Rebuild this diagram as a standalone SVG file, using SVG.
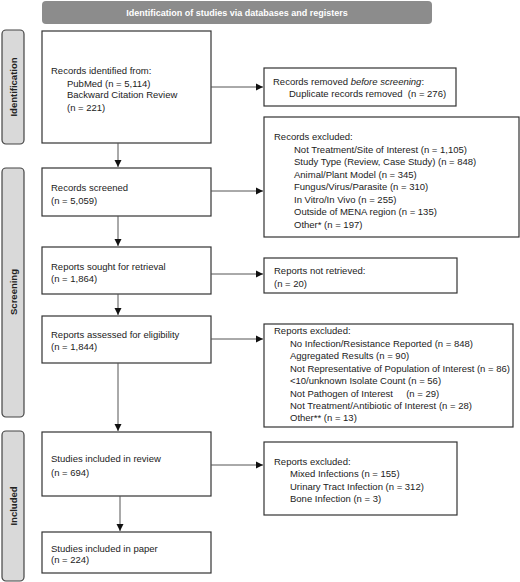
<svg xmlns="http://www.w3.org/2000/svg" width="520" height="582" viewBox="0 0 520 582">
<defs>
<marker id="ah" markerWidth="8" markerHeight="8" refX="7" refY="4" orient="auto" markerUnits="userSpaceOnUse">
<path d="M0,0.5 L7,4 L0,7.5 Z" fill="#111"/>
</marker>
<style>
.box{fill:#fff;stroke:#333;stroke-width:1.2}
.side{fill:#d9d9d9;stroke:#444;stroke-width:1.2}
.t{font-family:"Liberation Sans",Arial,sans-serif;font-size:9.5px;fill:#222}
.st{font-family:"Liberation Sans",Arial,sans-serif;font-size:9.5px;font-weight:bold;fill:#222}
.conn line{stroke:#555;stroke-width:1;marker-end:url(#ah)}
</style>
</defs>
<rect width="520" height="582" fill="#fff"/>
<g id="banner">
<rect x="42" y="1" width="390" height="23" rx="4" fill="#8c8c8c"/>
<text x="237" y="15.5" text-anchor="middle" class="st" style="fill:#fff;font-size:9px">Identification of studies via databases and registers</text>
</g>
<g id="side-identification">
<rect x="2" y="30" width="22" height="114" rx="4" class="side"/>
<text transform="translate(16.5,87) rotate(-90)" text-anchor="middle" class="st">Identification</text>
</g>
<g id="side-screening">
<rect x="2" y="168" width="22" height="249" rx="4" class="side"/>
<text transform="translate(16.5,292) rotate(-90)" text-anchor="middle" class="st">Screening</text>
</g>
<g id="side-included">
<rect x="2" y="431" width="22" height="150" rx="4" class="side"/>
<text transform="translate(16.5,506) rotate(-90)" text-anchor="middle" class="st">Included</text>
</g>
<g id="records-identified">
<rect x="42" y="31" width="169" height="112" class="box"/>
<text class="t" x="51" y="74">Records identified from:</text>
<text class="t" x="67" y="86.5">PubMed (n = 5,114)</text>
<text class="t" x="67" y="98">Backward Citation Review</text>
<text class="t" x="67" y="110.5">(n = 221)</text>
</g>
<g id="records-removed">
<rect x="264" y="68" width="192" height="38" class="box"/>
<text class="t" x="273" y="84.5">Records removed <tspan font-style="italic">before screening</tspan>:</text>
<text class="t" x="289" y="97" xml:space="preserve">Duplicate records removed  (n = 276)</text>
</g>
<g id="records-screened">
<rect x="42" y="168" width="169" height="48" class="box"/>
<text class="t" x="51" y="190.5">Records screened</text>
<text class="t" x="51" y="204">(n = 5,059)</text>
</g>
<g id="records-excluded">
<rect x="264" y="117" width="255" height="120" class="box"/>
<text class="t" x="274" y="139.5">Records excluded:</text>
<text class="t" x="294" y="152.5">Not Treatment/Site of Interest (n = 1,105)</text>
<text class="t" x="294" y="165">Study Type (Review, Case Study) (n = 848)</text>
<text class="t" x="294" y="177.5">Animal/Plant Model (n = 345)</text>
<text class="t" x="294" y="190">Fungus/Virus/Parasite (n = 310)</text>
<text class="t" x="294" y="202.5">In Vitro/In Vivo (n = 255)</text>
<text class="t" x="294" y="215">Outside of MENA region (n = 135)</text>
<text class="t" x="294" y="228">Other* (n = 197)</text>
</g>
<g id="reports-sought">
<rect x="42" y="247" width="169" height="47" class="box"/>
<text class="t" x="51" y="269.5">Reports sought for retrieval</text>
<text class="t" x="51" y="281.5">(n = 1,864)</text>
</g>
<g id="reports-not-retrieved">
<rect x="264" y="258" width="193" height="35" class="box"/>
<text class="t" x="274" y="273.5">Reports not retrieved:</text>
<text class="t" x="274" y="287">(n = 20)</text>
</g>
<g id="reports-assessed">
<rect x="42" y="316" width="169" height="47" class="box"/>
<text class="t" x="51" y="337.5">Reports assessed for eligibility</text>
<text class="t" x="51" y="349.5">(n = 1,844)</text>
</g>
<g id="reports-excluded">
<rect x="264" y="324" width="249" height="103" class="box"/>
<text class="t" x="274" y="333.5">Reports excluded:</text>
<text class="t" x="290" y="346.5">No Infection/Resistance Reported (n = 848)</text>
<text class="t" x="290" y="358.5">Aggregated Results (n = 90)</text>
<text class="t" x="290" y="371.5">Not Representative of Population of Interest (n = 86)</text>
<text class="t" x="290" y="383.5">&lt;10/unknown Isolate Count (n = 56)</text>
<text class="t" x="290" y="396.5" xml:space="preserve">Not Pathogen of Interest     (n = 29)</text>
<text class="t" x="290" y="408.5">Not Treatment/Antibiotic of Interest (n = 28)</text>
<text class="t" x="290" y="420.5">Other** (n = 13)</text>
</g>
<g id="studies-review">
<rect x="42" y="432" width="169" height="64" class="box"/>
<text class="t" x="51" y="461.5">Studies included in review</text>
<text class="t" x="51" y="476">(n = 694)</text>
</g>
<g id="reports-excluded-2">
<rect x="264" y="442" width="193" height="73" class="box"/>
<text class="t" x="274" y="464.5">Reports excluded:</text>
<text class="t" x="290" y="476.5">Mixed Infections (n = 155)</text>
<text class="t" x="290" y="489.5">Urinary Tract Infection (n = 312)</text>
<text class="t" x="290" y="501.5">Bone Infection (n = 3)</text>
</g>
<g id="studies-paper">
<rect x="42" y="532" width="169" height="41" class="box"/>
<text class="t" x="51" y="551.5">Studies included in paper</text>
<text class="t" x="51" y="563">(n = 224)</text>
</g>
<g id="connectors" class="conn">
<line x1="211" y1="87" x2="263" y2="87"/>
<line x1="118" y1="143" x2="118" y2="167"/>
<line x1="211" y1="191" x2="263" y2="191"/>
<line x1="118" y1="216" x2="118" y2="246"/>
<line x1="211" y1="274" x2="263" y2="274"/>
<line x1="118" y1="294" x2="118" y2="315"/>
<line x1="211" y1="339" x2="263" y2="339"/>
<line x1="118" y1="363" x2="118" y2="431"/>
<line x1="211" y1="465" x2="263" y2="465"/>
<line x1="120" y1="496" x2="120" y2="531"/>
</g>
</svg>
